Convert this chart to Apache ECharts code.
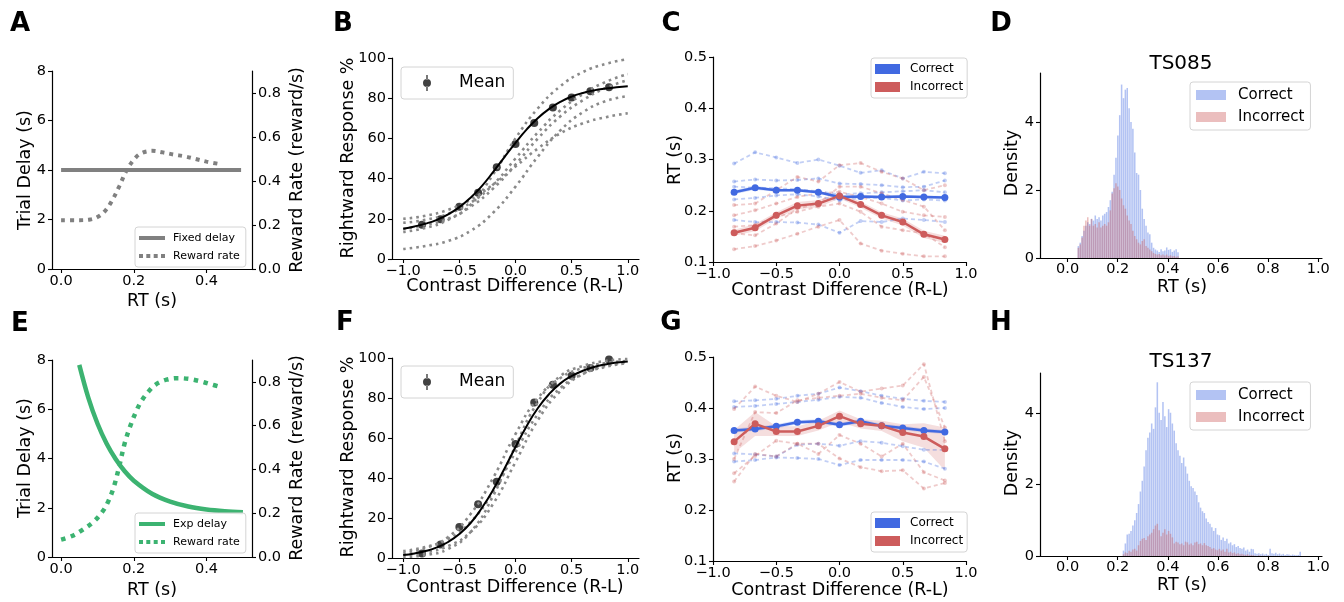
<!DOCTYPE html>
<html><head><meta charset="utf-8">
<script src="https://cdn.jsdelivr.net/npm/echarts@6/dist/echarts.min.js"></script>
<style>html,body{margin:0;padding:0;background:#fff}#c{width:1344px;height:602px}</style>
</head><body><div id="c"></div>
<script>
// ---------------- DATA ----------------
// Panel A (fixed delay)
const A_FIXED_X = [0, 0.495];
const A_FIXED_Y = [4, 4];
const A_RR_X = [0, 0.05, 0.08, 0.10, 0.12, 0.14, 0.16, 0.18, 0.20, 0.22, 0.25, 0.28, 0.31, 0.34, 0.37, 0.40, 0.44];
const A_RR_Y = [0.222, 0.222, 0.225, 0.236, 0.262, 0.310, 0.376, 0.448, 0.497, 0.526, 0.537, 0.530, 0.520, 0.512, 0.500, 0.488, 0.476];
// Panel E (exponential delay)
const E_EXP_X = [0.05, 0.075, 0.1, 0.125, 0.15, 0.175, 0.2, 0.25, 0.3, 0.35, 0.4, 0.45, 0.5];
const E_EXP_Y = [7.80, 6.46, 5.42, 4.61, 3.98, 3.48, 3.10, 2.57, 2.25, 2.05, 1.93, 1.86, 1.82];
const E_RR_X = [0, 0.03, 0.06, 0.09, 0.115, 0.13, 0.145, 0.16, 0.175, 0.19, 0.205, 0.22, 0.24, 0.26, 0.29, 0.32, 0.35, 0.38, 0.41, 0.44];
const E_RR_Y = [0.079, 0.096, 0.125, 0.162, 0.210, 0.255, 0.320, 0.415, 0.520, 0.597, 0.660, 0.710, 0.755, 0.788, 0.810, 0.817, 0.814, 0.804, 0.790, 0.776];

// Contrast levels
const CONTRAST = [-0.833, -0.667, -0.5, -0.333, -0.167, 0, 0.167, 0.333, 0.5, 0.667, 0.833];
const FIT_X = [-1, -0.9, -0.8, -0.7, -0.6, -0.5, -0.4, -0.3, -0.2, -0.1, 0, 0.1, 0.2, 0.3, 0.4, 0.5, 0.6, 0.7, 0.8, 0.9, 1];
const IND_X = [-1, -0.8, -0.6, -0.4, -0.2, 0, 0.2, 0.4, 0.6, 0.8, 1];

// Panel B psychometric
const B_MEAN = [17.1, 19.8, 26.0, 33.0, 45.6, 57.2, 67.6, 75.4, 80.4, 83.5, 85.5];
const B_FIT = [15.1, 16.2, 17.6, 19.5, 22.2, 25.8, 30.5, 36.3, 43.2, 50.6, 57.8, 64.5, 70.2, 74.7, 78.2, 80.8, 82.6, 83.9, 84.8, 85.5, 86.0];
const B_IND1 = [20, 21.5, 24.5, 29.5, 37, 46, 55, 62.5, 67.5, 70.5, 72.5];
const B_IND2 = [13.5, 15.5, 19.5, 27, 42, 60, 75, 86, 93, 97, 99.5];
const B_IND3 = [5, 6.5, 9, 14, 23, 36, 51, 64, 73, 78.5, 81];
const B_IND4 = [18, 19.5, 22.5, 28, 37, 50, 63, 74, 82, 88, 92];
const B_IND5 = [15, 17, 20, 26, 35, 47, 60, 71, 79, 85, 89];

// Panel F psychometric
const F_MEAN = [2.2, 6.7, 15.5, 26.9, 38.1, 57.0, 77.8, 86.6, 91.1, 95.0, 99.2];
const F_FIT = [1.5, 2.3, 3.5, 5.3, 8.0, 12.0, 17.5, 25.0, 34.0, 44.5, 55.5, 66.0, 75.0, 82.0, 87.3, 91.0, 93.6, 95.5, 96.8, 97.7, 98.3];
const F_IND1 = [2.5, 5, 10.5, 22, 40, 62, 80, 90, 95, 97.5, 98.5];
const F_IND2 = [1.5, 2.8, 6, 13, 27, 48, 69, 83.5, 92, 96, 98];
const F_IND3 = [0.5, 1.5, 4.5, 13, 31, 56, 78, 91, 96, 98.5, 99.5];
const F_IND4 = [3.5, 5.5, 9.5, 18, 33, 53, 72, 85, 92, 95.5, 97.5];

// Panel C reaction times
const C_COR_MEAN = [0.236, 0.245, 0.240, 0.240, 0.236, 0.227, 0.228, 0.227, 0.228, 0.227, 0.226];
const C_COR_LO = [0.232, 0.241, 0.237, 0.237, 0.233, 0.224, 0.225, 0.224, 0.225, 0.224, 0.223];
const C_COR_HI = [0.240, 0.249, 0.243, 0.243, 0.239, 0.230, 0.231, 0.230, 0.231, 0.230, 0.229];
const C_INC_MEAN = [0.157, 0.167, 0.191, 0.210, 0.214, 0.229, 0.212, 0.191, 0.178, 0.154, 0.144];
const C_INC_LO = [0.151, 0.160, 0.185, 0.203, 0.207, 0.224, 0.206, 0.185, 0.171, 0.147, 0.137];
const C_INC_HI = [0.163, 0.174, 0.197, 0.217, 0.221, 0.234, 0.218, 0.197, 0.185, 0.161, 0.151];
const C_COR_IND1 = [0.292, 0.314, 0.304, 0.293, 0.300, 0.288, 0.274, 0.279, 0.263, 0.276, 0.273];
const C_COR_IND2 = [0.257, 0.261, 0.259, 0.260, 0.263, 0.253, 0.252, 0.250, 0.246, 0.247, 0.259];
const C_COR_IND3 = [0.247, 0.245, 0.244, 0.242, 0.238, 0.232, 0.234, 0.236, 0.238, 0.240, 0.236];
const C_COR_IND4 = [0.182, 0.178, 0.178, 0.177, 0.173, 0.157, 0.180, 0.178, 0.185, 0.182, 0.178];
const C_COR_IND5 = [0.222, 0.225, 0.230, 0.232, 0.228, 0.220, 0.225, 0.225, 0.220, 0.222, 0.220];
const C_INC_IND1 = [0.125, 0.131, 0.142, 0.155, 0.169, 0.182, 0.136, 0.122, 0.116, 0.111, 0.111];
const C_INC_IND2 = [0.211, 0.214, 0.240, 0.266, 0.257, 0.289, 0.293, 0.276, 0.263, 0.240, 0.250];
const C_INC_IND3 = [0.191, 0.201, 0.214, 0.227, 0.234, 0.237, 0.227, 0.214, 0.198, 0.191, 0.188];
const C_INC_IND4 = [0.169, 0.172, 0.188, 0.198, 0.208, 0.214, 0.198, 0.169, 0.162, 0.156, 0.129];
const C_INC_IND5 = [0.156, 0.152, 0.175, 0.204, 0.214, 0.247, 0.247, 0.234, 0.221, 0.208, 0.162];

// Panel G reaction times
const G_COR_MEAN = [0.356, 0.359, 0.364, 0.372, 0.374, 0.367, 0.374, 0.365, 0.361, 0.356, 0.353];
const G_COR_LO = [0.352, 0.355, 0.360, 0.368, 0.370, 0.363, 0.370, 0.361, 0.357, 0.352, 0.349];
const G_COR_HI = [0.360, 0.363, 0.368, 0.376, 0.378, 0.371, 0.378, 0.369, 0.365, 0.360, 0.357];
const G_INC_MEAN = [0.334, 0.369, 0.354, 0.354, 0.365, 0.384, 0.369, 0.365, 0.352, 0.344, 0.320];
const G_INC_LO = [0.312, 0.345, 0.345, 0.345, 0.356, 0.372, 0.360, 0.355, 0.335, 0.322, 0.278];
const G_INC_HI = [0.357, 0.392, 0.364, 0.364, 0.375, 0.395, 0.378, 0.375, 0.368, 0.370, 0.362];
const G_COR_IND1 = [0.413, 0.415, 0.418, 0.424, 0.428, 0.440, 0.433, 0.424, 0.418, 0.414, 0.412];
const G_COR_IND2 = [0.402, 0.404, 0.408, 0.412, 0.416, 0.422, 0.420, 0.410, 0.402, 0.398, 0.400];
const G_COR_IND3 = [0.311, 0.309, 0.305, 0.328, 0.330, 0.326, 0.335, 0.332, 0.325, 0.318, 0.318];
const G_COR_IND4 = [0.295, 0.298, 0.303, 0.302, 0.300, 0.288, 0.298, 0.298, 0.298, 0.295, 0.281];
const G_INC_IND1 = [0.256, 0.310, 0.305, 0.330, 0.330, 0.301, 0.284, 0.276, 0.278, 0.242, 0.253];
const G_INC_IND2 = [0.398, 0.442, 0.424, 0.412, 0.428, 0.451, 0.432, 0.438, 0.444, 0.486, 0.335];
const G_INC_IND3 = [0.300, 0.392, 0.390, 0.415, 0.420, 0.424, 0.428, 0.420, 0.415, 0.461, 0.362];
const G_INC_IND4 = [0.272, 0.306, 0.336, 0.330, 0.310, 0.347, 0.330, 0.305, 0.330, 0.274, 0.258];

// Panel D histogram (TS085)
const D_BIN_START = 0.04, D_BIN_W = 0.0075;
const D_COR = [0.35,0.45,0.65,0.80,0.95,1.05,1.00,1.15,1.10,1.25,
  1.15,1.20,1.10,1.25,1.30,1.35,1.50,1.70,1.95,2.45,
  2.95,3.60,4.20,5.10,4.70,4.95,5.00,4.40,4.00,3.80,
  3.10,2.50,2.45,2.00,1.45,1.15,0.95,0.75,0.70,0.45,
  0.30,0.25,0.22,0.18,0.26,0.20,0.22,0.31,0.24,0.26,
  0.18,0.22,0.26,0.17];
const D_INC = [0.30,0.40,0.60,0.95,1.10,1.20,0.95,1.15,0.95,1.00,
  0.90,1.05,0.90,0.95,1.00,0.95,1.05,1.40,1.90,2.05,
  2.20,2.10,2.00,1.75,1.55,1.45,1.25,1.10,1.00,0.80,
  0.65,0.55,0.45,0.40,0.50,0.55,0.35,0.30,0.25,0.20,
  0.15,0.12,0.10,0.12,0.08,0.10,0.07,0.10,0.06,0.08,
  0.05,0.06,0.04,0.05];
// Panel H histogram (TS137)
const H_BIN_START = 0.22, H_BIN_W = 0.0075;
const H_COR = [0.15,0.35,0.60,0.62,0.70,0.85,1.00,1.20,1.45,1.80,
  2.10,2.50,2.95,3.30,3.45,3.70,3.55,4.15,4.85,4.00,
  3.80,4.30,3.90,3.60,4.10,4.00,3.70,3.50,3.15,2.95,
  2.80,2.60,2.75,2.50,2.30,2.10,1.95,1.90,1.80,1.70,
  1.50,1.35,1.25,1.20,1.05,0.95,0.90,0.80,0.70,0.78,
  0.60,0.58,0.45,0.52,0.42,0.48,0.35,0.38,0.30,0.33,
  0.25,0.28,0.22,0.20,0.24,0.15,0.18,0.12,0.20,0.19,
  0.08,0.06,0.08,0.05,0.07,0.04,0.06,0.03,0.20,0.08,
  0.06,0.09,0.05,0.07,0.04,0.06,0.03,0.05,0.04,0.02,
  0.04,0.03,0.02,0.03,0.12];
const H_INC = [0.05,0.10,0.08,0.15,0.12,0.18,0.20,0.15,0.30,0.42,
  0.48,0.50,0.45,0.55,0.60,0.65,0.75,0.85,0.90,0.72,
  0.55,0.65,0.75,0.60,0.70,0.62,0.52,0.35,0.40,0.38,
  0.33,0.35,0.30,0.40,0.38,0.32,0.35,0.30,0.38,0.40,
  0.33,0.35,0.30,0.36,0.30,0.28,0.25,0.20,0.22,0.18,
  0.16,0.20,0.15,0.18,0.12,0.20,0.10,0.12,0.08,0.10,
  0.06,0.08,0.05,0.06,0.04,0.03,0.05,0.02,0.03,0.02,
  0.01,0,0.02,0,0.01,0,0,0.01,0,0,
  0,0,0,0,0,0,0,0,0,0,
  0,0,0,0,0];

// Tick values
const A_X_TICKS = [0, 0.2, 0.4];
const TD_Y_TICKS = [0, 2, 4, 6, 8];
const RR_Y_TICKS = [0, 0.2, 0.4, 0.6, 0.8];
const CD_X_TICKS = [-1, -0.5, 0, 0.5, 1];
const PSY_Y_TICKS = [0, 20, 40, 60, 80, 100];
const RT_Y_TICKS = [0.1, 0.2, 0.3, 0.4, 0.5];
const HIST_X_TICKS = [0, 0.2, 0.4, 0.6, 0.8, 1.0];
const DENS_Y_TICKS = [0, 2, 4];

const LABELS = {
  A_fixed: 'Fixed delay', A_rr: 'Reward rate', E_exp: 'Exp delay', E_rr: 'Reward rate',
  B_mean: 'Mean', F_mean: 'Mean', C_cor: 'Correct', C_inc: 'Incorrect', G_cor: 'Correct', G_inc: 'Incorrect',
  D_cor: 'Correct', D_inc: 'Incorrect', H_cor: 'Correct', H_inc: 'Incorrect'
};

// ---------------- STYLE ----------------
const FONT = 'DejaVu Sans';
const BLUE = '#4169e1', RED = '#cd5c5c', GRAY = '#808080', GREEN = '#3cb371';
const BLUE_A = 'rgba(65,105,225,0.4)', RED_A = 'rgba(205,92,92,0.4)';
const BLUE_IND = 'rgba(65,105,225,0.32)', RED_IND = 'rgba(205,92,92,0.32)';

const fmtMinus = v => (v < 0 ? '\u2212' : '') + Math.abs(v).toFixed(1);
const fmt1 = v => v.toFixed(1);
const fmt0 = v => String(Math.round(v));

function xAx(g, min, max, ticks, fmt, margin) {
  return {
    type: 'value', gridIndex: g, min: min, max: max,
    splitLine: { show: false },
    axisLine: { show: true, onZero: false, lineStyle: { color: '#000', width: 1.2 } },
    axisTick: { show: true, length: 4, lineStyle: { color: '#000', width: 1.1 }, customValues: ticks },
    axisLabel: { color: '#000', fontFamily: FONT, fontSize: 14.5, margin: margin == null ? 5 : margin, customValues: ticks, formatter: fmt }
  };
}
function yAx(g, min, max, ticks, fmt, pos) {
  return {
    type: 'value', gridIndex: g, min: min, max: max, position: pos,
    splitLine: { show: false },
    axisLine: { show: true, onZero: false, lineStyle: { color: '#000', width: 1.2 } },
    axisTick: { show: true, length: 4, lineStyle: { color: '#000', width: 1.1 }, customValues: ticks },
    axisLabel: { color: '#000', fontFamily: FONT, fontSize: 14.5, margin: 6, customValues: ticks, formatter: fmt }
  };
}
function grid(left, top, width, height) {
  return { left: left, top: top, width: width, height: height, containLabel: false, outerBoundsMode: 'none' };
}
function pairs(xs, ys) { return xs.map((x, i) => [x, ys[i]]); }
function line(xi, yi, xs, ys, extra) {
  return Object.assign({ type: 'line', xAxisIndex: xi, yAxisIndex: yi, data: pairs(xs, ys), symbol: 'none', silent: true, animation: false }, extra);
}
function band(xi, yi, xs, lo, hi, color) {
  return {
    type: 'custom', xAxisIndex: xi, yAxisIndex: yi, silent: true, animation: false,
    data: xs.map((x, i) => [x, lo[i], hi[i]]), encode: { x: 0, y: [1, 2] },
    renderItem: function (params, api) {
      if (params.dataIndex !== 0) return null;
      const pts = [];
      for (let i = 0; i < xs.length; i++) pts.push(api.coord([xs[i], hi[i]]));
      for (let i = xs.length - 1; i >= 0; i--) pts.push(api.coord([xs[i], lo[i]]));
      return { type: 'polygon', shape: { points: pts }, style: { fill: color } };
    }
  };
}
function hist(name, xi, yi, start, w, vals, color) {
  return {
    type: 'custom', name: name, xAxisIndex: xi, yAxisIndex: yi, silent: true, animation: false,
    itemStyle: { color: color },
    data: vals.map((v, i) => [start + i * w, start + (i + 1) * w, v]), encode: { x: [0, 1], y: 2 },
    renderItem: function (params, api) {
      const a = api.coord([api.value(0), api.value(2)]);
      const b = api.coord([api.value(1), 0]);
      return { type: 'rect', shape: { x: a[0], y: a[1], width: Math.max(0.4, b[0] - a[0] - 0.35), height: b[1] - a[1] }, style: { fill: color } };
    }
  };
}

const series = [];
// A
series.push(line(0, 0, A_FIXED_X, A_FIXED_Y, { name: 'A_fixed', itemStyle: { color: GRAY }, lineStyle: { color: GRAY, width: 4 } }));
series.push(line(0, 1, A_RR_X, A_RR_Y, { name: 'A_rr', smooth: 0.35, itemStyle: { color: GRAY }, lineStyle: { color: GRAY, width: 4, type: [4, 5], cap: 'butt' } }));
// E
series.push(line(4, 5, E_EXP_X, E_EXP_Y, { name: 'E_exp', smooth: 0.35, itemStyle: { color: GREEN }, lineStyle: { color: GREEN, width: 4.5 } }));
series.push(line(4, 6, E_RR_X, E_RR_Y, { name: 'E_rr', smooth: 0.35, itemStyle: { color: GREEN }, lineStyle: { color: GREEN, width: 4.5, type: [4.5, 5.5], cap: 'butt' } }));
// B
[B_IND1, B_IND2, B_IND3, B_IND4, B_IND5].forEach(arr => series.push(line(1, 2, IND_X, arr, { smooth: true, lineStyle: { color: '#8a8a8a', width: 2.6, type: [2.6, 4], cap: 'butt' } })));
series.push(line(1, 2, FIT_X, B_FIT, { smooth: true, lineStyle: { color: '#000', width: 2 } }));
series.push({ type: 'scatter', name: 'B_mean', xAxisIndex: 1, yAxisIndex: 2, data: pairs(CONTRAST, B_MEAN), symbol: 'circle', symbolSize: 8, itemStyle: { color: '#111' }, silent: true, animation: false });
// F
[F_IND1, F_IND2, F_IND3, F_IND4].forEach(arr => series.push(line(5, 7, IND_X, arr, { smooth: true, lineStyle: { color: '#8a8a8a', width: 2.6, type: [2.6, 4], cap: 'butt' } })));
series.push(line(5, 7, FIT_X, F_FIT, { smooth: true, lineStyle: { color: '#000', width: 2 } }));
series.push({ type: 'scatter', name: 'F_mean', xAxisIndex: 5, yAxisIndex: 7, data: pairs(CONTRAST, F_MEAN), symbol: 'circle', symbolSize: 8, itemStyle: { color: '#111' }, silent: true, animation: false });
// C
const indStyle = c => ({ symbol: 'circle', symbolSize: 4, itemStyle: { color: c }, lineStyle: { color: c, width: 1.8, type: [4, 3] } });
[C_COR_IND1, C_COR_IND2, C_COR_IND3, C_COR_IND4, C_COR_IND5].forEach(arr => series.push(line(2, 3, CONTRAST, arr, indStyle(BLUE_IND))));
[C_INC_IND1, C_INC_IND2, C_INC_IND3, C_INC_IND4, C_INC_IND5].forEach(arr => series.push(line(2, 3, CONTRAST, arr, indStyle(RED_IND))));
series.push(band(2, 3, CONTRAST, C_COR_LO, C_COR_HI, 'rgba(65,105,225,0.2)'));
series.push(band(2, 3, CONTRAST, C_INC_LO, C_INC_HI, 'rgba(205,92,92,0.2)'));
series.push(line(2, 3, CONTRAST, C_COR_MEAN, { name: 'C_cor', symbol: 'circle', symbolSize: 7, itemStyle: { color: BLUE }, lineStyle: { color: BLUE, width: 2.5 } }));
series.push(line(2, 3, CONTRAST, C_INC_MEAN, { name: 'C_inc', symbol: 'circle', symbolSize: 7, itemStyle: { color: RED }, lineStyle: { color: RED, width: 2.5 } }));
// G
[G_COR_IND1, G_COR_IND2, G_COR_IND3, G_COR_IND4].forEach(arr => series.push(line(6, 8, CONTRAST, arr, indStyle(BLUE_IND))));
[G_INC_IND1, G_INC_IND2, G_INC_IND3, G_INC_IND4].forEach(arr => series.push(line(6, 8, CONTRAST, arr, indStyle(RED_IND))));
series.push(band(6, 8, CONTRAST, G_COR_LO, G_COR_HI, 'rgba(65,105,225,0.2)'));
series.push(band(6, 8, CONTRAST, G_INC_LO, G_INC_HI, 'rgba(205,92,92,0.2)'));
series.push(line(6, 8, CONTRAST, G_COR_MEAN, { name: 'G_cor', symbol: 'circle', symbolSize: 7, itemStyle: { color: BLUE }, lineStyle: { color: BLUE, width: 2.5 } }));
series.push(line(6, 8, CONTRAST, G_INC_MEAN, { name: 'G_inc', symbol: 'circle', symbolSize: 7, itemStyle: { color: RED }, lineStyle: { color: RED, width: 2.5 } }));
// D, H
series.push(hist('D_cor', 3, 4, D_BIN_START, D_BIN_W, D_COR, BLUE_A));
series.push(hist('D_inc', 3, 4, D_BIN_START, D_BIN_W, D_INC, RED_A));
series.push(hist('H_cor', 7, 9, H_BIN_START, H_BIN_W, H_COR, BLUE_A));
series.push(hist('H_inc', 7, 9, H_BIN_START, H_BIN_W, H_INC, RED_A));

// ---------------- LEGENDS ----------------
const SOLID_ICON = 'path://M0,0h26v4h-26z';
const DOT_ICON = 'path://M0,0h4v4h-4zM7.3,0h4v4h-4zM14.7,0h4v4h-4zM22,0h4v4h-4z';
// error-bar marker centred in a 40 x 16 box (tiny corner specks fix the box size)
const MEAN_ICON = 'path://M0,0h0.02v0.02h-0.02zM39.98,15.98h0.02v0.02h-0.02zM16,8a4,4 0 1,0 8,0a4,4 0 1,0 -8,0zM19.3,0h1.4v4.5h-1.4zM19.3,11.5h1.4v4.5h-1.4z';
function legend(left, top, items, o) {
  return Object.assign({
    left: left, top: top, orient: 'vertical', selectedMode: false,
    data: items.map(it => ({ name: it[0], icon: it[1], itemStyle: { color: it[2], borderWidth: 0 } })),
    formatter: n => LABELS[n],
    borderColor: '#d4d4d4', borderWidth: 1, borderRadius: 3, backgroundColor: 'rgba(255,255,255,0.85)'
  }, o);
}
const smallTxt = { fontFamily: FONT, fontSize: 11, color: '#000', lineHeight: 14, padding: [0, 0, 0, 3] };
const meanTxt = { fontFamily: FONT, fontSize: 17, color: '#000', lineHeight: 20, padding: [0, 0, 0, 7] };
const corTxt = { fontFamily: FONT, fontSize: 12, color: '#000', lineHeight: 14, padding: [0, 0, 0, 5] };
const histTxt = { fontFamily: FONT, fontSize: 15, color: '#000', lineHeight: 18, padding: [0, 0, 0, 7] };
const legends = [
  legend(135, 227, [['A_fixed', SOLID_ICON, GRAY], ['A_rr', DOT_ICON, GRAY]], { itemWidth: 26, itemHeight: 4, itemGap: 4, padding: [4, 6, 4, 4], textStyle: smallTxt }),
  legend(135, 513, [['E_exp', SOLID_ICON, GREEN], ['E_rr', DOT_ICON, GREEN]], { itemWidth: 26, itemHeight: 4, itemGap: 4, padding: [4, 6, 4, 4], textStyle: smallTxt }),
  legend(401, 67, [['B_mean', MEAN_ICON, '#111']], { itemWidth: 40, itemHeight: 16, padding: [6, 8, 6, 6], textStyle: meanTxt }),
  legend(401, 366, [['F_mean', MEAN_ICON, '#111']], { itemWidth: 40, itemHeight: 16, padding: [6, 8, 6, 6], textStyle: meanTxt }),
  legend(871, 58, [['C_cor', 'rect', BLUE], ['C_inc', 'rect', RED]], { itemWidth: 25, itemHeight: 10, itemGap: 4, padding: [4, 4, 4, 4], textStyle: corTxt }),
  legend(871, 512, [['G_cor', 'rect', BLUE], ['G_inc', 'rect', RED]], { itemWidth: 25, itemHeight: 10, itemGap: 4, padding: [4, 4, 4, 4], textStyle: corTxt }),
  legend(1190, 82, [['D_cor', 'rect', BLUE_A], ['D_inc', 'rect', RED_A]], { itemWidth: 30, itemHeight: 10, itemGap: 4, padding: [4, 6, 4, 6], textStyle: histTxt }),
  legend(1190, 382, [['H_cor', 'rect', BLUE_A], ['H_inc', 'rect', RED_A]], { itemWidth: 30, itemHeight: 10, itemGap: 4, padding: [4, 6, 4, 6], textStyle: histTxt })
];

// ---------------- TEXT ----------------
function txt(s, x, y, size, rot, bold) {
  return { type: 'text', x: x, y: y, rotation: rot ? Math.PI / 2 : 0, silent: true,
    style: { text: s, fill: '#000', fontFamily: FONT, fontSize: size, fontWeight: bold ? 'bold' : 'normal', align: 'center', verticalAlign: 'middle' } };
}
const T = 17.5;
const graphics = [
  txt('A', 20, 24, 26, false, true), txt('B', 343, 24, 26, false, true), txt('C', 671, 24, 26, false, true), txt('D', 1001, 24, 26, false, true),
  txt('E', 20, 324, 26, false, true), txt('F', 345, 323, 26, false, true), txt('G', 671, 323, 26, false, true), txt('H', 1001, 323, 26, false, true),
  txt('Trial Delay (s)', 25, 170, T, true), txt('Reward Rate (reward/s)', 297, 170, T, true), txt('RT (s)', 152, 301, T),
  txt('Trial Delay (s)', 25, 458, T, true), txt('Reward Rate (reward/s)', 297, 458, T, true), txt('RT (s)', 152, 590, T),
  txt('Rightward Response %', 348, 158, T, true), txt('Contrast Difference (R-L)', 515, 286, T),
  txt('Rightward Response %', 348, 457, T, true), txt('Contrast Difference (R-L)', 515, 587, T),
  txt('RT (s)', 675, 160, T, true), txt('Contrast Difference (R-L)', 840, 290, T),
  txt('RT (s)', 675, 458, T, true), txt('Contrast Difference (R-L)', 840, 590, T),
  txt('Density', 1012, 163, T, true), txt('RT (s)', 1182, 287, T), txt('TS085', 1181, 64, 20),
  txt('Density', 1012, 463, T, true), txt('RT (s)', 1182, 585, T), txt('TS137', 1181, 362, 20)
];

const option = {
  animation: false,
  backgroundColor: '#fff',
  textStyle: { fontFamily: FONT },
  grid: [
    grid(52, 71, 200, 198),
    grid(392, 58, 247, 201),
    grid(713, 57, 253, 205),
    grid(1040, 73, 282, 185),
    grid(52, 360, 200, 197),
    grid(392, 358, 247, 200),
    grid(713, 357, 253, 204),
    grid(1040, 373, 282, 183)
  ],
  xAxis: [
    xAx(0, -0.025, 0.525, A_X_TICKS, fmt1),
    xAx(1, -1.1, 1.1, CD_X_TICKS, fmtMinus),
    xAx(2, -1, 1, CD_X_TICKS, fmtMinus),
    xAx(3, -0.11, 1.015, HIST_X_TICKS, fmtMinus, 4),
    xAx(4, -0.025, 0.525, A_X_TICKS, fmt1),
    xAx(5, -1.1, 1.1, CD_X_TICKS, fmtMinus),
    xAx(6, -1, 1, CD_X_TICKS, fmtMinus),
    xAx(7, -0.11, 1.015, HIST_X_TICKS, fmtMinus, 4)
  ],
  yAxis: [
    yAx(0, 0, 8, TD_Y_TICKS, fmt0, 'left'),
    yAx(0, 0, 0.9, RR_Y_TICKS, fmt1, 'right'),
    yAx(1, 0, 100, PSY_Y_TICKS, fmt0, 'left'),
    yAx(2, 0.1, 0.5, RT_Y_TICKS, fmt1, 'left'),
    yAx(3, 0, 5.44, DENS_Y_TICKS, fmt0, 'left'),
    yAx(4, 0, 8, TD_Y_TICKS, fmt0, 'left'),
    yAx(4, 0, 0.9, RR_Y_TICKS, fmt1, 'right'),
    yAx(5, 0, 100, PSY_Y_TICKS, fmt0, 'left'),
    yAx(6, 0.1, 0.5, RT_Y_TICKS, fmt1, 'left'),
    yAx(7, 0, 5.11, DENS_Y_TICKS, fmt0, 'left')
  ],
  legend: legends,
  series: series,
  graphic: graphics
};

const chart = echarts.init(document.getElementById('c'), null, { renderer: 'canvas' });
chart.setOption(option);
</script></body></html>
